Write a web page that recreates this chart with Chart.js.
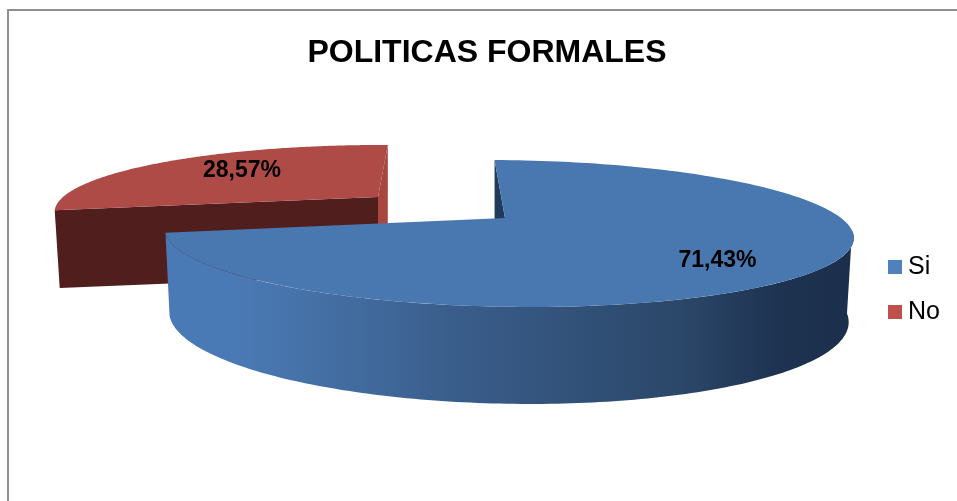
<!DOCTYPE html>
<html lang="es">
<head>
<meta charset="utf-8">
<title>Politicas formales</title>
<script src="https://cdn.jsdelivr.net/npm/chart.js@4/dist/chart.umd.min.js"></script>
<style>
  html, body { margin: 0; padding: 0; background: #fff; overflow: hidden; }
  #wrap { position: absolute; left: 0; top: 0; width: 957px; height: 501px; }
</style>
</head>
<body>
<div id="wrap"><canvas id="pie" width="957" height="501"></canvas></div>
<script>
// ===== DATA =====
const categories = ['Si', 'No'];
const shares = [71.43, 28.57];
const chartTitle = 'POLITICAS FORMALES';

// ===== STYLE =====
const legendColors = ['#4F81BD', '#C0504D'];
const FONT = '"Liberation Sans", Arial, sans-serif';
const TILT = -0.211;   // perspective of the disc

// projection of each slice's disc: apex, radii, shear, and the lower rim
const discs = [
  { x: 505, y: 218, rx: 336, ry: 70.2, skew: 20, top: '#4977B0',
    lowX: 504.5, lowY: 298.5, lowRx: 331.5, lowRy: 83.2, labelX: 717.5, labelY: 261 },
  { x: 378, y: 197, rx: 315, ry: 63, skew: -5, top: '#AE4B46',
    labelX: 242, labelY: 171 }
];

// point on a disc rim for a canvas angle
function rim(d, a, lower) {
  const w = 1 + TILT * Math.sin(a);
  const rx = lower ? d.lowRx : d.rx;
  const ry = lower ? d.lowRy : d.ry;
  return [
    (lower ? d.lowX : d.x) + (rx * Math.cos(a) + d.skew * Math.sin(a)) / w,
    (lower ? d.lowY : d.y) + ry * Math.sin(a) / w
  ];
}

function traceRim(ctx, d, from, to, lower) {
  const steps = 160;
  for (let i = 0; i <= steps; i++) {
    const p = rim(d, from + (to - from) * i / steps, lower);
    ctx.lineTo(p[0], p[1]);
  }
}

function poly(ctx, pts, color) {
  ctx.fillStyle = color;
  ctx.beginPath();
  pts.forEach((p, i) => i ? ctx.lineTo(p[0], p[1]) : ctx.moveTo(p[0], p[1]));
  ctx.closePath();
  ctx.fill();
}

function topFace(ctx, d, arc) {
  ctx.fillStyle = d.top;
  ctx.beginPath();
  ctx.moveTo(d.x, d.y);
  traceRim(ctx, d, arc.startAngle, arc.endAngle, false);
  ctx.closePath();
  ctx.fill();
}

// ===== 3D PIE PLUGIN =====
const pie3d = {
  id: 'pie3d',
  beforeDraw(chart) {
    const ctx = chart.ctx;
    ctx.fillStyle = '#8f8f8f';
    ctx.fillRect(7, 9, 950, 2);
    ctx.fillRect(7, 9, 2, 492);
  },
  beforeDatasetsDraw(chart) {
    const ctx = chart.ctx;
    const arcs = chart.getDatasetMeta(0).data;
    const blue = discs[0], red = discs[1];
    ctx.save();

    // detached slice: cut walls first, then its top
    const redStart = rim(red, arcs[1].startAngle, false);
    const redEnd = rim(red, arcs[1].endAngle, false);
    poly(ctx, [redEnd, [red.x, red.y], [red.x, 270], [redEnd[0], 270]], '#A8463F');
    poly(ctx, [redStart, [red.x, red.y], [red.x, 275], [redStart[0] + 5, 288]], '#501F1D');
    topFace(ctx, red, arcs[1]);

    // inner cut wall of the large slice
    const blueStart = rim(blue, arcs[0].startAngle, false);
    poly(ctx, [blueStart, [blue.x, blue.y], [blue.x, 245], [blueStart[0], 245]], '#1F3A5C');

    // curved outer wall, shaded left to right
    const shade = ctx.createLinearGradient(166, 0, 853, 0);
    shade.addColorStop(0, '#4A7AB5');
    shade.addColorStop(0.1, '#4A7AB5');
    shade.addColorStop(0.27, '#426C9F');
    shade.addColorStop(0.41, '#3A5E8C');
    shade.addColorStop(0.75, '#2B4769');
    shade.addColorStop(0.89, '#1E3351');
    shade.addColorStop(1, '#1B2F4B');
    const wallFrom = 10 * Math.PI / 180;
    ctx.fillStyle = shade;
    ctx.beginPath();
    const w0 = rim(blue, wallFrom, false);
    ctx.moveTo(w0[0], w0[1]);
    traceRim(ctx, blue, wallFrom, arcs[0].endAngle, false);
    traceRim(ctx, blue, arcs[0].endAngle, wallFrom, true);
    ctx.closePath();
    ctx.fill();
    topFace(ctx, blue, arcs[0]);

    // value labels
    ctx.fillStyle = '#000';
    ctx.font = 'bold 23px ' + FONT;
    ctx.textAlign = 'center';
    ctx.textBaseline = 'middle';
    shares.forEach((v, i) => {
      ctx.fillText(v.toFixed(2).replace('.', ',') + '%', discs[i].labelX, discs[i].labelY);
    });

    // legend
    ctx.font = '25px ' + FONT;
    ctx.textAlign = 'left';
    categories.forEach((name, i) => {
      const y = 267 + i * 45;
      ctx.fillStyle = legendColors[i];
      ctx.fillRect(888, y - 7, 14, 14);
      ctx.fillStyle = '#000';
      ctx.fillText(name, 908, y);
    });
    ctx.restore();
    return false;
  }
};

// ===== CHART =====
new Chart(document.getElementById('pie'), {
  type: 'pie',
  data: {
    labels: categories,
    datasets: [{ data: shares, backgroundColor: legendColors, borderWidth: 0 }]
  },
  options: {
    responsive: false,
    animation: false,
    rotation: 1.25,
    layout: { padding: { left: 17, right: 0, top: 34 } },
    plugins: {
      legend: { display: false },
      tooltip: { enabled: false },
      title: {
        display: true,
        text: chartTitle,
        color: '#000',
        font: { family: FONT, size: 32, weight: 'bold' },
        padding: { top: 0, bottom: 0 }
      }
    }
  },
  plugins: [pie3d]
});
</script>
</body>
</html>
